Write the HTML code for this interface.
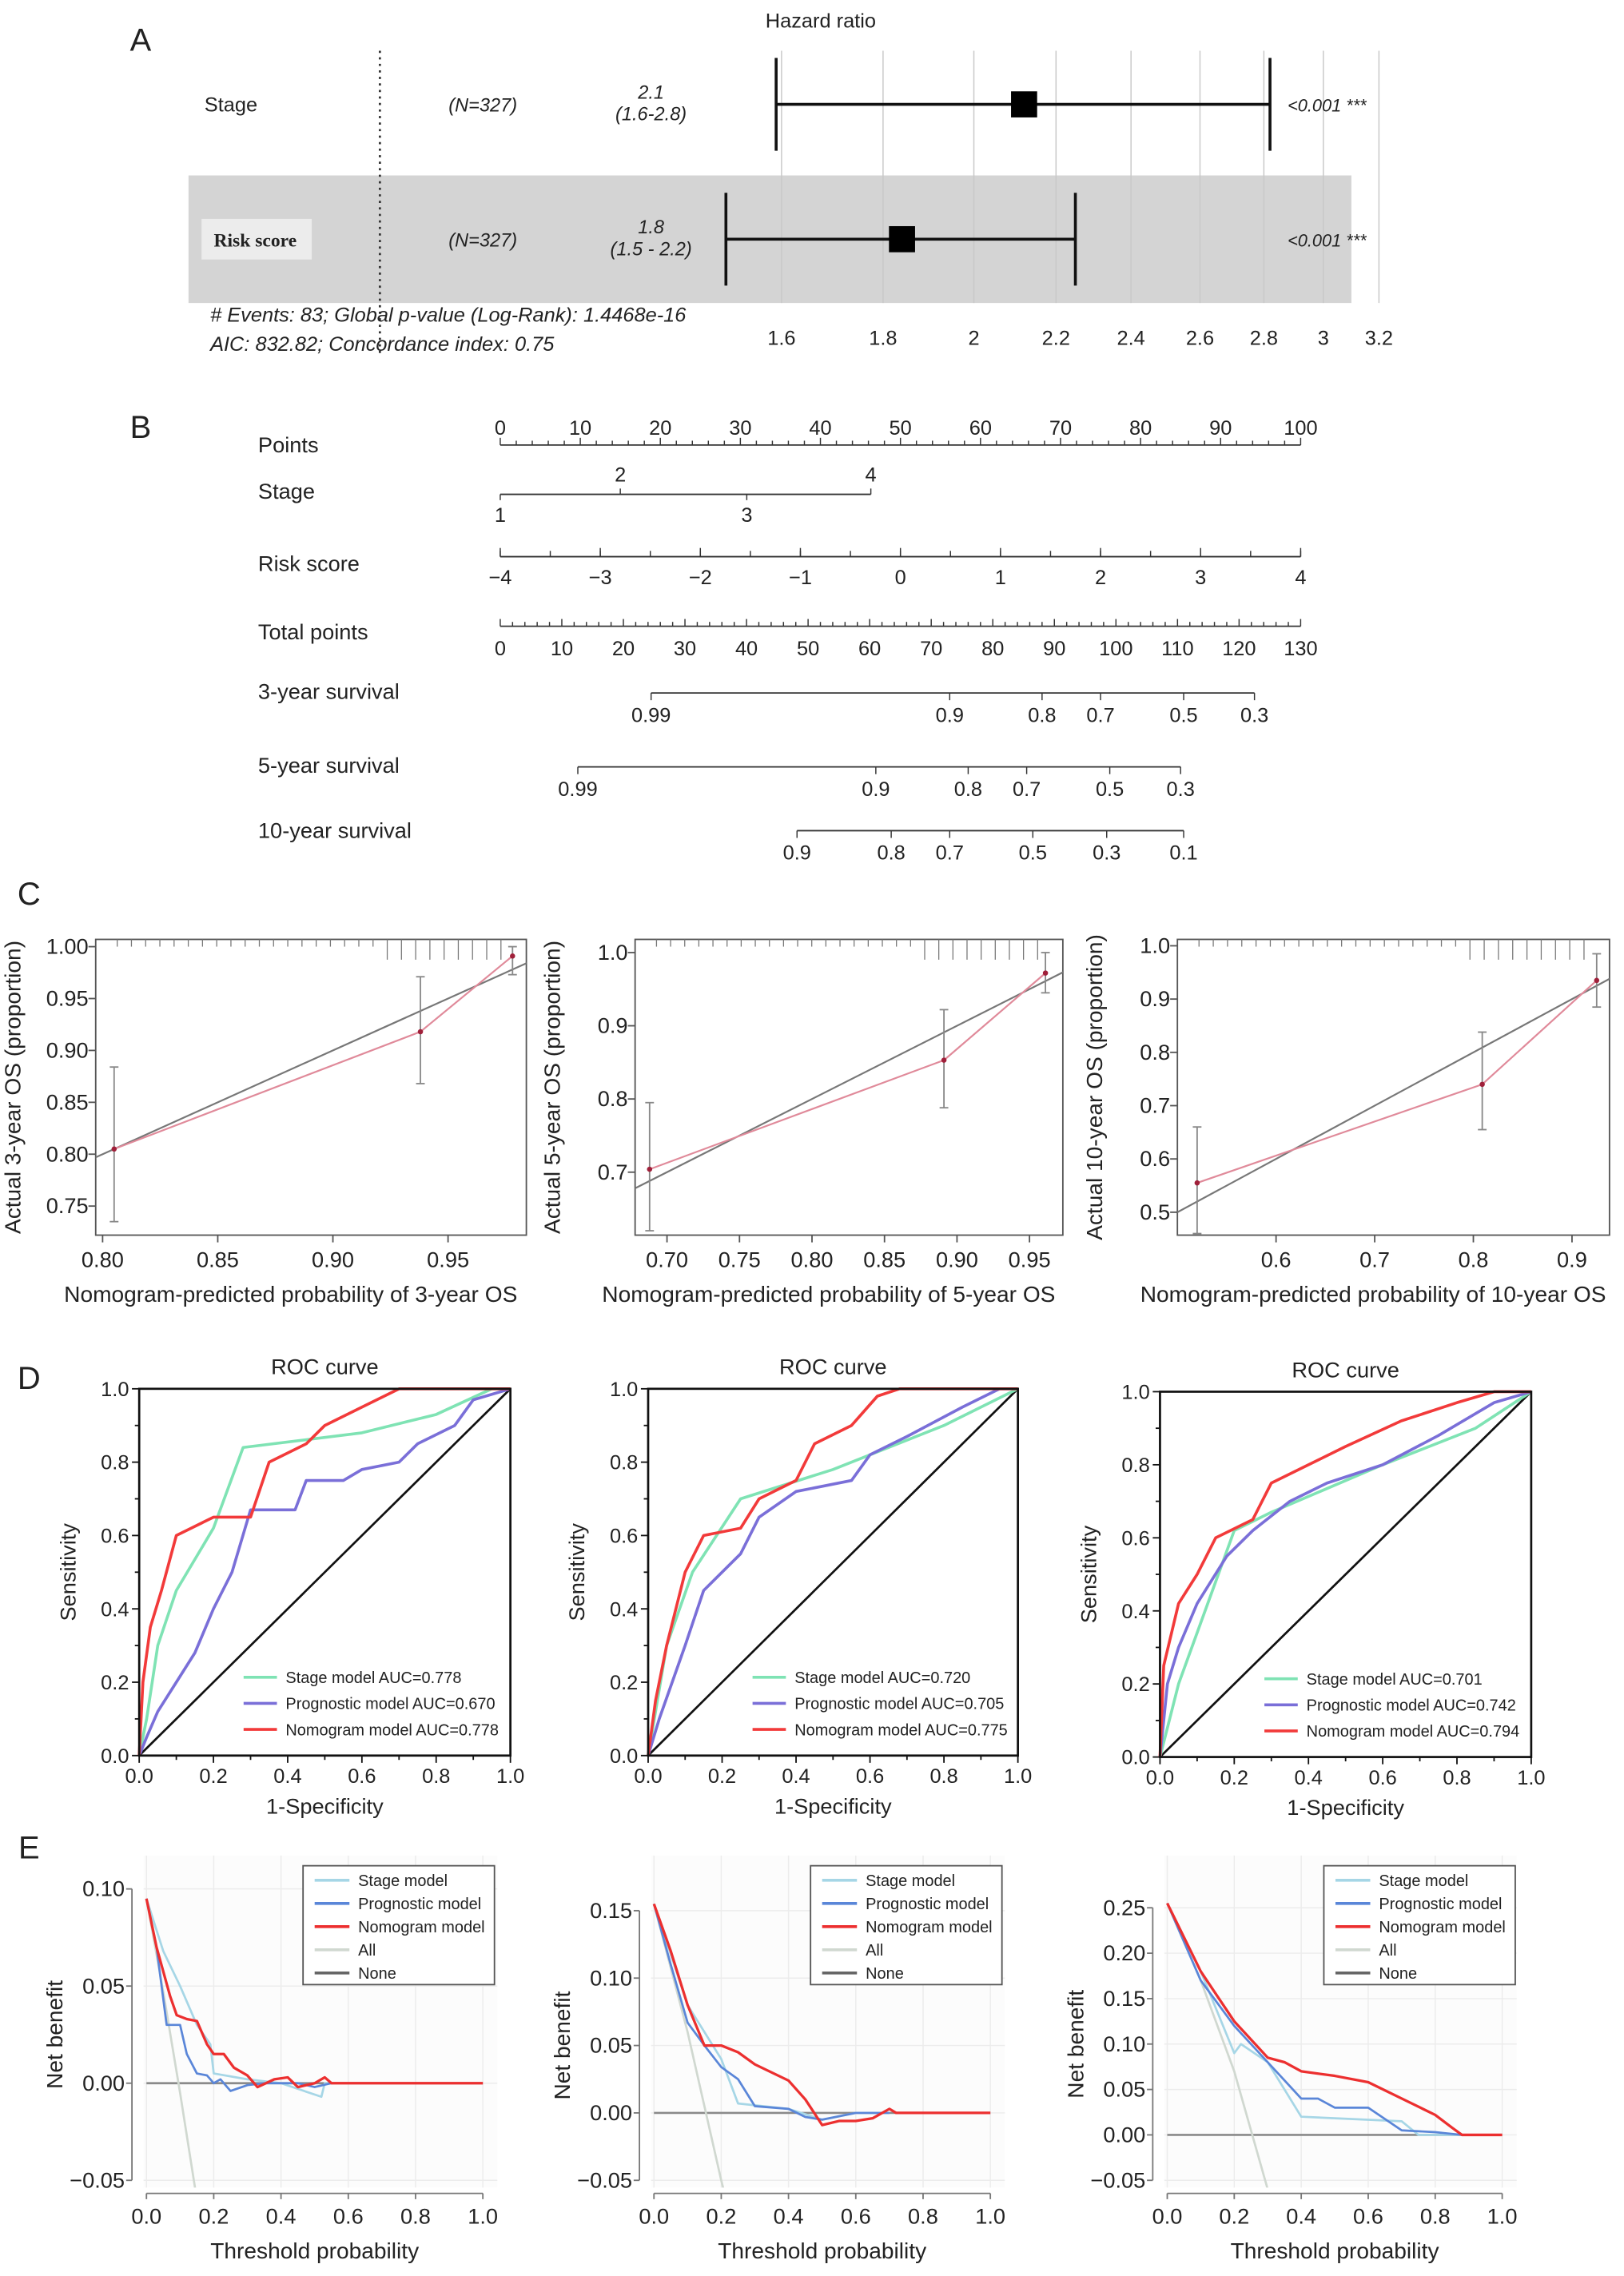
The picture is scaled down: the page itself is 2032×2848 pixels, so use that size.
<!DOCTYPE html>
<html><head><meta charset="utf-8"><style>
html,body{margin:0;padding:0;background:#fff}
svg{display:block;font-family:"Liberation Sans",Arial,sans-serif}
</style></head><body>
<svg id="fig" width="2032" height="2848" viewBox="0 0 1120 1570" preserveAspectRatio="none" xmlns="http://www.w3.org/2000/svg">
<rect width="1120" height="1570" fill="#fff"/>
</svg>
<script>
// ---------- DATA ----------
const hrTicks=[1.6,1.8,2,2.2,2.4,2.6,2.8,3,3.2];
const hrNames=["Stage","Risk score"];
const hrEst=[2.12,1.84];
const hrLow=[1.59,1.5];
const hrHigh=[2.82,2.25];
const hrTxt=[["2.1","(1.6-2.8)"],["1.8","(1.5 - 2.2)"]];
const nomPoints=[0,10,20,30,40,50,60,70,80,90,100];
const nomRisk=[-4,-3,-2,-1,0,1,2,3,4];
const nomTotal=[0,10,20,30,40,50,60,70,80,90,100,110,120,130];
const surv3Lab=["0.99","0.9","0.8","0.7","0.5","0.3"];
const surv3Pos=[24.5,73,88,97.5,111,122.5];
const surv5Lab=["0.99","0.9","0.8","0.7","0.5","0.3"];
const surv5Pos=[12.6,61,76,85.5,99,110.5];
const surv10Lab=["0.9","0.8","0.7","0.5","0.3","0.1"];
const surv10Pos=[48.2,63.5,73,86.5,98.5,111];
const cal1Pred=[0.805,0.938,0.978], cal1Obs=[0.805,0.918,0.991], cal1Lo=[0.735,0.868,0.973], cal1Hi=[0.884,0.971,1.0];
const cal2Pred=[0.688,0.891,0.961], cal2Obs=[0.704,0.853,0.972], cal2Lo=[0.62,0.788,0.945], cal2Hi=[0.795,0.922,1.0];
const cal3Pred=[0.52,0.809,0.925], cal3Obs=[0.555,0.74,0.935], cal3Lo=[0.46,0.655,0.885], cal3Hi=[0.66,0.838,0.985];
const roc1Stage=[[0,0],[0.02,0.1],[0.05,0.3],[0.1,0.45],[0.2,0.62],[0.28,0.84],[0.6,0.88],[0.8,0.93],[0.95,1],[1,1]];
const roc1Prog=[[0,0],[0.02,0.05],[0.05,0.12],[0.1,0.2],[0.15,0.28],[0.2,0.4],[0.25,0.5],[0.3,0.67],[0.42,0.67],[0.45,0.75],[0.55,0.75],[0.6,0.78],[0.7,0.8],[0.75,0.85],[0.85,0.9],[0.9,0.97],[1,1]];
const roc1Nom=[[0,0],[0.01,0.2],[0.03,0.35],[0.06,0.45],[0.1,0.6],[0.14,0.62],[0.2,0.65],[0.3,0.65],[0.35,0.8],[0.45,0.85],[0.5,0.9],[0.6,0.95],[0.7,1],[1,1]];
const roc2Stage=[[0,0],[0.05,0.3],[0.12,0.5],[0.25,0.7],[0.5,0.78],[0.8,0.9],[1,1]];
const roc2Prog=[[0,0],[0.03,0.1],[0.1,0.3],[0.15,0.45],[0.25,0.55],[0.3,0.65],[0.4,0.72],[0.55,0.75],[0.6,0.82],[0.7,0.87],[0.85,0.95],[0.95,1],[1,1]];
const roc2Nom=[[0,0],[0.02,0.15],[0.05,0.3],[0.1,0.5],[0.15,0.6],[0.25,0.62],[0.3,0.7],[0.4,0.75],[0.45,0.85],[0.55,0.9],[0.62,0.98],[0.68,1],[1,1]];
const roc3Stage=[[0,0],[0.05,0.2],[0.2,0.62],[0.3,0.67],[0.6,0.8],[0.85,0.9],[1,1]];
const roc3Prog=[[0,0],[0.02,0.2],[0.05,0.3],[0.1,0.42],[0.18,0.55],[0.25,0.62],[0.35,0.7],[0.45,0.75],[0.6,0.8],[0.75,0.88],[0.9,0.97],[1,1]];
const roc3Nom=[[0,0],[0.01,0.25],[0.05,0.42],[0.1,0.5],[0.15,0.6],[0.25,0.65],[0.3,0.75],[0.4,0.8],[0.5,0.85],[0.65,0.92],[0.8,0.97],[0.9,1],[1,1]];
const rocAuc1=["0.778","0.670","0.778"], rocAuc2=["0.720","0.705","0.775"], rocAuc3=["0.701","0.742","0.794"];
const dca1Stage=[[0,0.095],[0.05,0.068],[0.1,0.05],[0.15,0.03],[0.19,0.02],[0.2,0.005],[0.3,0.002],[0.4,0],[0.52,-0.007],[0.53,0.0],[0.55,0]];
const dca1Prog=[[0,0.095],[0.03,0.07],[0.06,0.03],[0.1,0.03],[0.12,0.015],[0.15,0.005],[0.18,0.004],[0.2,0],[0.22,0.002],[0.25,-0.004],[0.3,-0.001],[0.35,0],[0.45,0],[0.5,-0.002],[0.55,0]];
const dca1Nom=[[0,0.095],[0.03,0.07],[0.07,0.045],[0.09,0.035],[0.12,0.033],[0.15,0.032],[0.18,0.02],[0.2,0.015],[0.23,0.015],[0.26,0.008],[0.3,0.004],[0.33,-0.002],[0.38,0.002],[0.42,0.003],[0.45,-0.002],[0.5,0],[0.53,0.003],[0.55,0],[1,0]];
const dca1All=[[0,0.095],[0.05,0.047],[0.1,-0.005],[0.15,-0.06]];
const dca2Stage=[[0,0.155],[0.1,0.08],[0.2,0.04],[0.25,0.007],[0.4,0.003],[0.5,-0.005],[0.6,0],[0.7,0]];
const dca2Prog=[[0,0.155],[0.05,0.11],[0.1,0.067],[0.15,0.05],[0.2,0.034],[0.25,0.025],[0.3,0.005],[0.4,0.003],[0.45,-0.003],[0.5,-0.005],[0.6,0],[0.7,0]];
const dca2Nom=[[0,0.155],[0.05,0.12],[0.1,0.08],[0.15,0.05],[0.2,0.05],[0.25,0.045],[0.3,0.036],[0.4,0.024],[0.45,0.01],[0.5,-0.009],[0.55,-0.006],[0.6,-0.006],[0.65,-0.004],[0.7,0.003],[0.72,0],[1,0]];
const dca2All=[[0,0.155],[0.1,0.06],[0.2,-0.05],[0.22,-0.07]];
const dca3Stage=[[0,0.255],[0.1,0.18],[0.2,0.09],[0.22,0.1],[0.3,0.08],[0.4,0.02],[0.7,0.015],[0.75,0],[0.9,0]];
const dca3Prog=[[0,0.255],[0.1,0.17],[0.2,0.12],[0.3,0.08],[0.35,0.06],[0.4,0.04],[0.45,0.04],[0.5,0.03],[0.6,0.03],[0.7,0.005],[0.8,0.003],[0.88,0]];
const dca3Nom=[[0,0.255],[0.1,0.18],[0.2,0.125],[0.3,0.085],[0.35,0.08],[0.4,0.07],[0.5,0.065],[0.6,0.058],[0.7,0.04],[0.8,0.022],[0.85,0.008],[0.88,0],[1,0]];
const dca3All=[[0,0.255],[0.1,0.17],[0.2,0.07],[0.3,-0.06]];

// ---------- helpers ----------
const S=document.getElementById('fig');const NS="http://www.w3.org/2000/svg";
function el(tag,attrs,parent,txt){const e=document.createElementNS(NS,tag);for(const k in attrs)e.setAttribute(k,attrs[k]);if(txt!==undefined)e.textContent=txt;(parent||S).appendChild(e);return e;}
function G(name){const g=el('g',{});


return g;}
function T(p,x,y,s,size,anchor,extra){return el('text',Object.assign({x:x,y:y,'font-size':size||14,'text-anchor':anchor||'middle',fill:'#222'},extra||{}),p,s);}
function L(p,x1,y1,x2,y2,c,w,extra){return el('line',Object.assign({x1,y1,x2,y2,stroke:c||'#222','stroke-width':w||1},extra||{}),p);}
function poly(p,pts,c,w,clip){const e=el('polyline',{points:pts.map(q=>q.join(',')).join(' '),fill:'none',stroke:c,'stroke-width':w||1.5,'stroke-linejoin':'round'},p);if(clip)e.setAttribute('clip-path','url(#'+clip+')');return e;}
const defs=el('defs',{});

// ---------- Panel labels ----------
[["A",97,35],["B",97,302],["C",20,624],["D",20,958],["E",20,1282]].forEach(a=>{const t=T(S,a[1],a[2],a[0],22);

});

// ---------- Panel A forest ----------
(function(){const g=G('forest-plot');
const lx=v=>539+(Math.log(v)-Math.log(1.6))/(Math.log(3.2)-Math.log(1.6))*412;
el('rect',{x:130,y:121,width:802,height:88,fill:'#d4d4d4'},g);
hrTicks.forEach(v=>{L(g,lx(v),35,lx(v),209,'#c8c8c8',0.8);T(g,lx(v),238,String(v),14);});
L(g,262,35,262,245,'#333',1.5,{'stroke-dasharray':'1.5,3'});
T(g,566,19,'Hazard ratio',14);
const ys=[72,165];
hrNames.forEach((n,i)=>{const y=ys[i];
if(i==1){el('rect',{x:139,y:151,width:76,height:28,fill:'#ececec'},g);T(g,176,170,n,13,'middle',{'font-family':'Liberation Serif,serif','font-weight':'bold'});}
else T(g,141,77,n,14,'start');
T(g,333,y+5,'(N=327)',13,'middle',{'font-style':'italic'});
T(g,449,y-4,hrTxt[i][0],13,'middle',{'font-style':'italic'});T(g,449,y+11,hrTxt[i][1],13,'middle',{'font-style':'italic'});
L(g,lx(hrLow[i]),y,lx(hrHigh[i]),y,'#111',2);
L(g,lx(hrLow[i]),y-32,lx(hrLow[i]),y+32,'#111',2);L(g,lx(hrHigh[i]),y-32,lx(hrHigh[i]),y+32,'#111',2);
el('rect',{x:lx(hrEst[i])-9,y:y-9,width:18,height:18,fill:'#000'},g);
T(g,888,y+5,'<0.001 ***',12,'start',{'font-style':'italic'});
});
T(g,145,222,'# Events: 83; Global p-value (Log-Rank): 1.4468e-16',14,'start',{'font-style':'italic'});
T(g,145,242,'AIC: 832.82; Concordance index: 0.75',14,'start',{'font-style':'italic'});
})();

// ---------- Panel B nomogram ----------
(function(){const g=G('nomogram');const x0=345,x1=897;
const px=p=>x0+p/100*(x1-x0);const tx=t=>x0+t/130*(x1-x0);
[['Points',312],['Stage',344],['Risk score',394],['Total points',441],['3-year survival',482],['5-year survival',533],['10-year survival',578]].forEach(r=>T(g,178,r[1],r[0],15,'start'));
L(g,x0,307,x1,307,'#333',1);
for(let i=0;i<=100;i+=2)L(g,px(i),307,px(i),i%10==0?302:304,'#333',0.8);
nomPoints.forEach(v=>T(g,px(v),300,String(v),14));
L(g,x0,341,px(46.3),341,'#333',1);
[[1,0,1],[2,15,-1],[3,30.8,1],[4,46.3,-1]].forEach(s=>{L(g,px(s[1]),341,px(s[1]),341+4*s[2],'#333',0.8);T(g,px(s[1]),s[2]>0?360:332,String(s[0]),14);});
const rx=v=>x0+(v+4)/8*(x1-x0);
L(g,x0,384,x1,384,'#333',1);
nomRisk.forEach(v=>{L(g,rx(v),384,rx(v),378,'#333',0.8);T(g,rx(v),403,v<0?'\u2212'+(-v):String(v),14);});
for(let v=-4;v<=4;v+=0.5)L(g,rx(v),384,rx(v),380,'#333',0.8);
L(g,x0,432,x1,432,'#333',1);
for(let i=0;i<=130;i+=2)L(g,tx(i),432,tx(i),i%10==0?427:429,'#333',0.8);
nomTotal.forEach(v=>T(g,tx(v),452,String(v),14));
function surv(pos,lab,y){L(g,tx(pos[0]),y,tx(pos[pos.length-1]),y,'#333',1);pos.forEach((p,i)=>{L(g,tx(p),y,tx(p),y+5,'#333',0.8);T(g,tx(p),y+20,lab[i],14);});}
surv(surv3Pos,surv3Lab,478);surv(surv5Pos,surv5Lab,529);surv(surv10Pos,surv10Lab,573);
})();

// ---------- Panel C calibration ----------
function calib(name,box,xr,yr,xt,yt,pred,obs,lo,hi,ylab,xlab,xdig,ydig){
const g=G(name);const [bx,by,bw,bh]=box;
const X=v=>bx+(v-xr[0])/(xr[1]-xr[0])*bw, Y=v=>by+bh-(v-yr[0])/(yr[1]-yr[0])*bh;
const cid=name+'-clip';const cp=el('clipPath',{id:cid},defs);el('rect',{x:bx,y:by,width:bw,height:bh},cp);
el('rect',{x:bx,y:by,width:bw,height:bh,fill:'none',stroke:'#555','stroke-width':1},g);
xt.forEach(v=>{L(g,X(v),by+bh,X(v),by+bh+5,'#555');T(g,X(v),by+bh+22,v.toFixed(xdig),15);});
yt.forEach(v=>{L(g,bx-5,Y(v),bx,Y(v),'#555');T(g,bx-5,Y(v)+5,v.toFixed(ydig),15,'end');});
for(let i=0;i<28;i++){const v=xr[0]+(xr[1]-xr[0])*(0.05+i*0.033);const h=v>pred[1]-0.02?14:5;L(g,X(v),by,X(v),by+h,'#777',0.7);}
poly(g,[[X(xr[0]-1),Y(xr[0]-1)],[X(xr[1]+1),Y(xr[1]+1)]],'#777',1.2,cid);
poly(g,pred.map((p,i)=>[X(p),Y(obs[i])]),'#e08a9a',1.2);
pred.forEach((p,i)=>{L(g,X(p),Y(lo[i]),X(p),Y(hi[i]),'#888',1);L(g,X(p)-3,Y(lo[i]),X(p)+3,Y(lo[i]),'#888');L(g,X(p)-3,Y(hi[i]),X(p)+3,Y(hi[i]),'#888');el('circle',{cx:X(p),cy:Y(obs[i]),r:1.8,fill:'#a0203a'},g);});
T(g,bx+bw/2-14,by+bh+46,xlab,15.5);
T(g,0,0,ylab,15.5,'middle',{transform:`translate(${bx-52},${by+bh/2}) rotate(-90)`});
}
calib('calibration-3yr',[66,648,297,204],[0.797,0.984],[0.722,1.007],[0.80,0.85,0.90,0.95],[0.75,0.80,0.85,0.90,0.95,1.00],cal1Pred,cal1Obs,cal1Lo,cal1Hi,'Actual 3-year OS (proportion)','Nomogram-predicted probability of 3-year OS',2,2);
calib('calibration-5yr',[438,648,295,204],[0.678,0.973],[0.614,1.018],[0.70,0.75,0.80,0.85,0.90,0.95],[0.7,0.8,0.9,1.0],cal2Pred,cal2Obs,cal2Lo,cal2Hi,'Actual 5-year OS (proportion)','Nomogram-predicted probability of 5-year OS',2,1);
calib('calibration-10yr',[812,648,298,204],[0.5,0.938],[0.457,1.012],[0.6,0.7,0.8,0.9],[0.5,0.6,0.7,0.8,0.9,1.0],cal3Pred,cal3Obs,cal3Lo,cal3Hi,'Actual 10-year OS (proportion)','Nomogram-predicted probability of 10-year OS',1,1);

// ---------- Panel D ROC ----------
function roc(name,box,st,pr,nm,auc){
const g=G(name);const [bx,by,bw,bh]=box;const X=v=>bx+v*bw,Y=v=>by+bh-v*bh;
T(g,bx+bw/2,by-10,'ROC curve',15);
L(g,bx,by+bh,bx+bw,by,'#111',1.5);
poly(g,st.map(p=>[X(p[0]),Y(p[1])]),'#7fe3b4',2);
poly(g,pr.map(p=>[X(p[0]),Y(p[1])]),'#7a6fd8',2);
poly(g,nm.map(p=>[X(p[0]),Y(p[1])]),'#f23a3a',2);
el('rect',{x:bx,y:by,width:bw,height:bh,fill:'none',stroke:'#111','stroke-width':1.5},g);
[0,0.2,0.4,0.6,0.8,1.0].forEach(v=>{L(g,X(v),by+bh,X(v),by+bh+5,'#111');T(g,X(v),by+bh+19,v.toFixed(1),14);L(g,bx-5,Y(v),bx,Y(v),'#111');T(g,bx-7,Y(v)+5,v.toFixed(1),14,'end');});
for(let v=0.1;v<1;v+=0.2){L(g,X(v),by+bh,X(v),by+bh+3,'#111');L(g,bx-3,Y(v),bx,Y(v),'#111');}
T(g,bx+bw/2,by+bh+40,'1-Specificity',15);
T(g,0,0,'Sensitivity',15,'middle',{transform:`translate(${bx-44},${by+bh/2}) rotate(-90)`});
const labs=['Stage model AUC=','Prognostic model AUC=','Nomogram model AUC='],cols=['#7fe3b4','#7a6fd8','#f23a3a'];
labs.forEach((l,i)=>{const y=by+bh-54+i*18;L(g,bx+72,y,bx+95,y,cols[i],2);T(g,bx+101,y+4,l+auc[i],11,'start');});
}
roc('roc-3yr',[96,958,256,253],roc1Stage,roc1Prog,roc1Nom,rocAuc1);
roc('roc-5yr',[447,958,255,253],roc2Stage,roc2Prog,roc2Nom,rocAuc2);
roc('roc-10yr',[800,960,256,252],roc3Stage,roc3Prog,roc3Nom,rocAuc3);

// ---------- Panel E DCA ----------
function dca(name,xx,yt,yPix,st,pr,nm,al){
const g=G(name);const [x0,x1]=xx;const [yTop,yBot]=yPix;
const X=v=>x0+v*(x1-x0),Y=v=>yTop+(yt[yt.length-1]-v)/(yt[yt.length-1]-yt[0])*(yBot-yTop);
const gx0=x0-2,gx1=x1+10,gy0=1280,gy1=yBot+5;
const cid=name+'-clip';const cp=el('clipPath',{id:cid},defs);el('rect',{x:gx0,y:gy0,width:gx1-gx0,height:gy1-gy0},cp);
el('rect',{x:gx0,y:gy0,width:gx1-gx0,height:gy1-gy0,fill:'#fcfcfc'},g);
[0,0.2,0.4,0.6,0.8,1].forEach(v=>L(g,X(v),gy0,X(v),gy1,'#ececec',0.8));
yt.forEach(v=>L(g,gx0,Y(v),gx1,Y(v),'#ececec',0.8));
L(g,x0-10,Y(yt[0]),x0-10,Y(yt[yt.length-1]),'#777',1);
yt.forEach(v=>{L(g,x0-14,Y(v),x0-10,Y(v),'#777');T(g,x0-15,Y(v)+5,(v<0?'\u2212'+(-v).toFixed(2):v.toFixed(2)),15,'end');});
const ay=1513;L(g,X(0),ay,X(1),ay,'#777',1);
[0,0.2,0.4,0.6,0.8,1].forEach(v=>{L(g,X(v),ay,X(v),ay+4,'#777');T(g,X(v),ay+21,v.toFixed(1),15);});
T(g,(X(0)+X(1))/2,1558,'Threshold probability',15.5);
T(g,0,0,'Net benefit',15.5,'middle',{transform:`translate(${x0-58},${(Y(yt[0])+Y(yt[yt.length-1]))/2}) rotate(-90)`});
L(g,X(0),Y(0),X(1),Y(0),'#8a8a8a',1.5);
poly(g,al.map(p=>[X(p[0]),Y(p[1])]),'#d0d8d0',1.5,cid);
poly(g,st.map(p=>[X(p[0]),Y(p[1])]),'#a6d6e6',1.5,cid);
poly(g,pr.map(p=>[X(p[0]),Y(p[1])]),'#5a86d8',1.5,cid);
poly(g,nm.map(p=>[X(p[0]),Y(p[1])]),'#ec2f2f',1.8,cid);
const lx=x0+108,ly=1287;el('rect',{x:lx,y:ly,width:132,height:82,fill:'#fff',stroke:'#555','stroke-width':1},g);
[['Stage model','#a6d6e6'],['Prognostic model','#5a86d8'],['Nomogram model','#ec2f2f'],['All','#d0d8d0'],['None','#666']].forEach((e,i)=>{const y=ly+10+i*16;L(g,lx+8,y,lx+32,y,e[1],2);T(g,lx+38,y+4,e[0],11,'start');});
}
dca('dca-3yr',[101,333],[-0.05,0,0.05,0.10],[1303,1504],dca1Stage,dca1Prog,dca1Nom,dca1All);
dca('dca-5yr',[451,683],[-0.05,0,0.05,0.10,0.15],[1318,1504],dca2Stage,dca2Prog,dca2Nom,dca2All);
dca('dca-10yr',[805,1036],[-0.05,0,0.05,0.10,0.15,0.20,0.25],[1316,1504],dca3Stage,dca3Prog,dca3Nom,dca3All);
</script>
</body></html>
